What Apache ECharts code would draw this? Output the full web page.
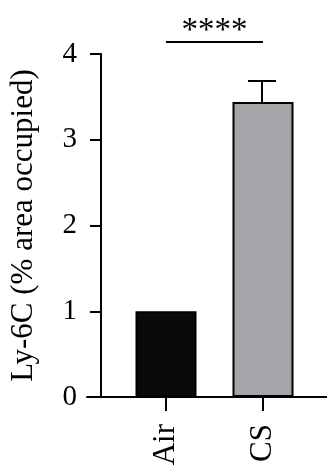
<!DOCTYPE html>
<html>
<head>
<meta charset="utf-8">
<script src="https://cdn.jsdelivr.net/npm/echarts@6/dist/echarts.min.js"></script>
<style>
  html, body { margin: 0; padding: 0; background: #fff; }
  #chart { width: 327px; height: 469px; }
</style>
</head>
<body>
<div id="chart"></div>
<script>
// data
var categories = ['Air', 'CS']
var means = [1.0, 3.44]
var sems = [0, 0.245]
var yTicks = [0, 1, 2, 3, 4]
var sigPair = ['Air', 'CS']
var sigLevel = [4.14]
var sigLabel = '****'

var FONT = '"Liberation Serif", "DejaVu Serif", serif'
var barColors = ['#0a0a0a', '#a5a4a9']

var chart = echarts.init(document.getElementById('chart'))

var option = {
  animation: false,
  grid: [
    // bars
    { left: 114.5, right: 15.5, top: 54, bottom: 72 },
    // only used for the long baseline
    { left: 87, right: 0, top: 54, bottom: 72 }
  ],
  xAxis: [
    {
      type: 'category',
      gridIndex: 0,
      data: categories,
      axisLine: { show: false },
      axisTick: {
        show: true,
        alignWithLabel: true,
        length: 14,
        lineStyle: { color: '#000', width: 2 }
      },
      axisLabel: {
        rotate: 90,
        margin: 27,
        color: '#000',
        fontSize: 31,
        fontFamily: FONT
      }
    },
    {
      type: 'value',
      gridIndex: 1,
      min: 0,
      max: 1,
      axisLine: { show: true, lineStyle: { color: '#000', width: 2 } },
      axisTick: { show: false },
      axisLabel: { show: false },
      splitLine: { show: false }
    }
  ],
  yAxis: [
    {
      type: 'value',
      gridIndex: 0,
      min: yTicks[0],
      max: yTicks[yTicks.length - 1],
      interval: 1,
      offset: 16.5,
      name: 'Ly-6C (% area occupied)',
      nameLocation: 'middle',
      nameGap: 62,
      nameTextStyle: { color: '#000', fontSize: 31, fontFamily: FONT },
      axisLine: { show: true, lineStyle: { color: '#000', width: 2 } },
      axisTick: { show: true, length: 11, lineStyle: { color: '#000', width: 2 } },
      axisLabel: { margin: 24, color: '#000', fontSize: 29, fontFamily: FONT },
      splitLine: { show: false }
    },
    { type: 'value', gridIndex: 1, show: false, min: 0, max: 1 }
  ],
  series: [
    {
      type: 'bar',
      xAxisIndex: 0,
      yAxisIndex: 0,
      barWidth: 61,
      data: means.map(function (v, i) {
        return {
          value: v,
          itemStyle: { color: barColors[i], borderColor: '#000', borderWidth: 2 }
        }
      })
    },
    {
      // error bars (upper only)
      type: 'custom',
      xAxisIndex: 0,
      yAxisIndex: 0,
      clip: false,
      z: 3,
      data: categories.map(function (c, i) {
        return [i, means[i], means[i] + sems[i]]
      }),
      renderItem: function (params, api) {
        var i = api.value(0)
        if (api.value(2) <= api.value(1)) return null
        var p0 = api.coord([i, api.value(1)])
        var p1 = api.coord([i, api.value(2)])
        var st = { stroke: '#000', lineWidth: 2 }
        return {
          type: 'group',
          children: [
            { type: 'line', shape: { x1: p0[0] - 1, y1: p0[1], x2: p1[0] - 1, y2: p1[1] }, style: st },
            { type: 'line', shape: { x1: p1[0] - 15, y1: p1[1], x2: p1[0] + 13, y2: p1[1] }, style: st }
          ]
        }
      }
    },
    {
      // significance bracket
      type: 'custom',
      xAxisIndex: 0,
      yAxisIndex: 0,
      clip: false,
      z: 3,
      data: [[categories.indexOf(sigPair[0]), categories.indexOf(sigPair[1]), sigLevel[0]]],
      renderItem: function (params, api) {
        var a = api.coord([api.value(0), api.value(2)])
        var b = api.coord([api.value(1), api.value(2)])
        return {
          type: 'group',
          children: [
            { type: 'line', shape: { x1: a[0], y1: a[1], x2: b[0], y2: b[1] }, style: { stroke: '#000', lineWidth: 2 } },
            {
              type: 'text',
              style: {
                text: sigLabel,
                x: (a[0] + b[0]) / 2,
                y: a[1] - 11,
                align: 'center',
                verticalAlign: 'middle',
                font: '33px ' + FONT,
                fill: '#000'
              }
            }
          ]
        }
      }
    }
  ]
}

chart.setOption(option)
</script>
</body>
</html>
